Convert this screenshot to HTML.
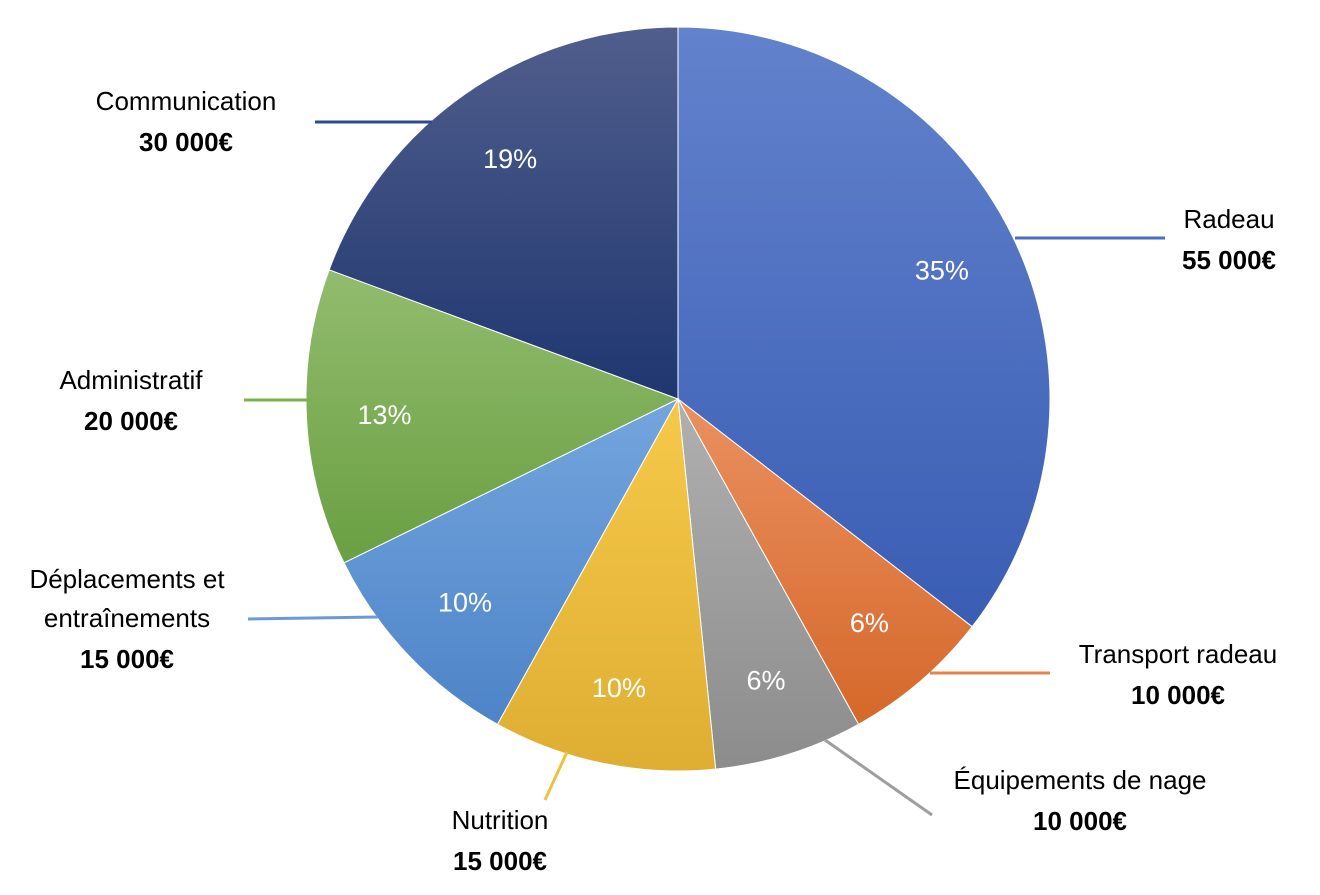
<!DOCTYPE html>
<html><head><meta charset="utf-8">
<style>
html,body{margin:0;padding:0;background:#fff;}
svg text{font-family:"Liberation Sans",sans-serif;}
</style></head>
<body>
<svg id="chart" width="1320" height="890" viewBox="0 0 1320 890" xmlns="http://www.w3.org/2000/svg">
<defs id="defs"></defs>
<g id="slices"></g>
<g id="pcts"></g>
<g id="leaders"></g>
<g id="labels"></g>
</svg>
<script>
const categories = ["Radeau","Transport radeau","Équipements de nage","Nutrition","Déplacements et entraînements","Administratif","Communication"];
const values = [55000,10000,10000,15000,15000,20000,30000];
const valueLabels = ["55 000€","10 000€","10 000€","15 000€","15 000€","20 000€","30 000€"];
const labelLines = [["Radeau"],["Transport radeau"],["Équipements de nage"],["Nutrition"],["Déplacements et","entraînements"],["Administratif"],["Communication"]];
const colorsTop = ["#6282CC","#EA9060","#B0B0B0","#F7C94A","#74A5DD","#92BC6E","#505E8C"];
const colorsBot = ["#3A5DB4","#D5682A","#8C8C8C","#DDAE32","#4D84C8","#6A9F42","#1F3670"];
const lineColors = ["#4A6FC0","#E5834A","#9E9E9E","#F0C040","#6A9BD8","#7AAE50","#2F4A8E"];
const labelPos = [[1229,228],[1178,663],[1080,789],[500,829],[127,588],[131,389],[186,110]];
const leaderPts = [[[1015,238],[1165,238]],[[930,673],[1050,673]],[[825,740],[932,815]],[[567,752],[545,800]],[[378,617],[248,619]],[[310,400],[244,400]],[[432,122],[315,122]]];

const NS="http://www.w3.org/2000/svg";
const cx=678, cy=399, r=372;
const total=values.reduce((a,b)=>a+b,0);
const defs=document.getElementById('defs');
const gS=document.getElementById('slices'), gP=document.getElementById('pcts'), gL=document.getElementById('leaders'), gT=document.getElementById('labels');
function pt(a,rr){return [cx+rr*Math.sin(a), cy-rr*Math.cos(a)];}
let acc=0;
values.forEach((v,i)=>{
  const a0=acc/total*2*Math.PI; acc+=v; const a1=acc/total*2*Math.PI;
  const g=document.createElementNS(NS,'linearGradient');
  g.setAttribute('id','g'+i); g.setAttribute('x1','0'); g.setAttribute('y1','0'); g.setAttribute('x2','0'); g.setAttribute('y2','1');
  g.innerHTML='<stop offset="0" stop-color="'+colorsTop[i]+'"/><stop offset="1" stop-color="'+colorsBot[i]+'"/>';
  defs.appendChild(g);
  const p0=pt(a0,r), p1=pt(a1,r);
  const large=(a1-a0)>Math.PI?1:0;
  const path=document.createElementNS(NS,'path');
  path.setAttribute('d',`M${cx},${cy} L${p0[0]},${p0[1]} A${r},${r} 0 ${large} 1 ${p1[0]},${p1[1]} Z`);
  path.setAttribute('fill','url(#g'+i+')');
  path.setAttribute('stroke','#fff'); path.setAttribute('stroke-width','1');
  
  
  gS.appendChild(path);
  const am=(a0+a1)/2, pp=pt(am,r*0.79);
  const t=document.createElementNS(NS,'text');
  t.setAttribute('x',pp[0]); t.setAttribute('y',pp[1]+10);
  t.setAttribute('text-anchor','middle'); t.setAttribute('font-size','27'); t.setAttribute('fill','#fff');
  t.textContent=Math.round(v/total*100)+'%';
  
  
  gP.appendChild(t);
  const lp=leaderPts[i];
  const ln=document.createElementNS(NS,'line');
  ln.setAttribute('x1',lp[0][0]); ln.setAttribute('y1',lp[0][1]); ln.setAttribute('x2',lp[1][0]); ln.setAttribute('y2',lp[1][1]);
  ln.setAttribute('stroke',lineColors[i]); ln.setAttribute('stroke-width','3');
  
  
  gL.appendChild(ln);
  const [lx,ly]=labelPos[i];
  const lines=labelLines[i];
  lines.forEach((s,k)=>{
    const tt=document.createElementNS(NS,'text');
    tt.setAttribute('x',lx); tt.setAttribute('y',ly+k*39);
    tt.setAttribute('text-anchor','middle'); tt.setAttribute('font-size','26'); tt.setAttribute('fill','#000');
    tt.textContent=s;
    
    
    gT.appendChild(tt);
  });
  const tv=document.createElementNS(NS,'text');
  tv.setAttribute('x',lx); tv.setAttribute('y',ly+lines.length*39+2);
  tv.setAttribute('text-anchor','middle'); tv.setAttribute('font-size','26'); tv.setAttribute('font-weight','bold'); tv.setAttribute('fill','#000');
  tv.textContent=valueLabels[i];
  
  
  gT.appendChild(tv);
});
</script>
</body></html>
